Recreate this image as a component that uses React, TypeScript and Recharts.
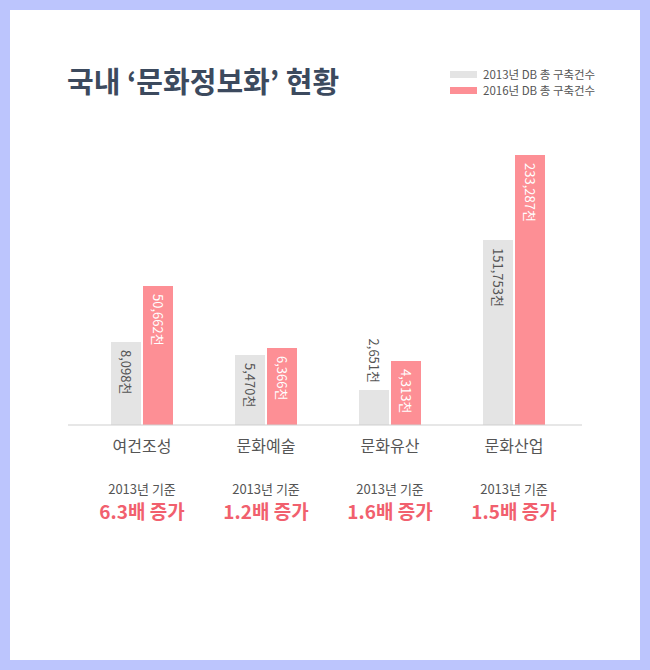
import React from "react";
import { BarChart, Bar, XAxis, YAxis, LabelList } from "recharts";

// 그림의 막대 높이는 값에 비례하지 않음 → 보이는 높이(상대값)와 표시 라벨을 따로 둔다
const categories = ["여건조성", "문화예술", "문화유산", "문화산업"];
const height2013 = [83, 70, 35, 185];
const height2016 = [139, 77, 64, 270];
const label2013 = ["8,098천", "5,470천", "2,651천", "151,753천"];
const label2016 = ["50,662천", "6,366천", "4,313천", "233,287천"];
const growth = ["6.3배 증가", "1.2배 증가", "1.6배 증가", "1.5배 증가"];

const GRAY = "#e4e4e4";
const PINK = "#fd8f95";
const FONT = "'Noto Sans CJK KR', 'Noto Sans', sans-serif";

const data = categories.map((name, i) => ({
  name,
  h2013: height2013[i],
  h2016: height2016[i],
  l2013: label2013[i],
  l2016: label2016[i],
  growth: growth[i],
}));

function makeLabel(color: string) {
  return (props: any) => {
    const { x, y, width, height, value } = props;
    const cx = x + width / 2;
    const inside = height > 60;
    const ty = inside ? y + 8 : y - 7;
    return (
      <text
        x={cx}
        y={ty}
        transform={`rotate(90, ${cx}, ${ty})`}
        textAnchor={inside ? "start" : "end"}
        dominantBaseline="central"
        fontSize={13}
        fontFamily={FONT}
        fill={inside ? color : "#555"}
      >
        {value}
      </text>
    );
  };
}

const CategoryTick = (props: any) => {
  const { x, y, payload } = props;
  const d = data[payload.index];
  return (
    <g fontFamily={FONT} textAnchor="middle">
      <text x={x} y={y + 27} fontSize={16} fill="#555">{payload.value}</text>
      <text x={x} y={y + 69} fontSize={13} fill="#555">2013년 기준</text>
      <text x={x} y={y + 94} fontSize={19} fontWeight={700} fill="#f1606e">{d.growth}</text>
    </g>
  );
};

export default function App() {
  return (
    <div style={{ position: "relative", width: 650, height: 670, background: "#bcc5fd" }}>
      <style>{`body{margin:0}`}</style>
      <div style={{ position: "absolute", left: 10, top: 10, width: 630, height: 650, background: "#fff" }} />
      <div
        style={{
          position: "absolute", left: 67, top: 60, fontFamily: FONT, fontSize: 29,
          fontWeight: 700, color: "#3c4a5e", whiteSpace: "nowrap", lineHeight: "40px",
        }}
      >
        국내 ‘문화정보화’ 현황
      </div>
      <div style={{ position: "absolute", left: 450, top: 66, fontFamily: FONT, fontSize: 11.5, color: "#555" }}>
        {[["2013년 DB 총 구축건수", GRAY], ["2016년 DB 총 구축건수", PINK]].map(([t, c]) => (
          <div key={t} style={{ display: "flex", alignItems: "center", height: 16 }}>
            <span style={{ width: 27, height: 7, background: c, marginRight: 6, display: "inline-block" }} />
            {t}
          </div>
        ))}
      </div>
      <div style={{ position: "absolute", left: 0, top: 0 }}>
        <BarChart
          width={650}
          height={670}
          data={data}
          margin={{ top: 155, right: 68, left: 68, bottom: 145 }}
          barSize={30}
          barGap={2}
        >
          <XAxis
            dataKey="name"
            height={100}
            padding={{ left: 12, right: 6 }}
            axisLine={{ stroke: "#cfcfcf" }}
            tickLine={false}
            tickSize={0}
            tickMargin={0}
            tick={<CategoryTick />}
            interval={0}
          />
          <YAxis hide domain={[0, 270]} />
          <Bar dataKey="h2013" fill={GRAY} isAnimationActive={false}>
            <LabelList dataKey="l2013" content={makeLabel("#555")} />
          </Bar>
          <Bar dataKey="h2016" fill={PINK} isAnimationActive={false}>
            <LabelList dataKey="l2016" content={makeLabel("#fff")} />
          </Bar>
        </BarChart>
      </div>
    </div>
  );
}
